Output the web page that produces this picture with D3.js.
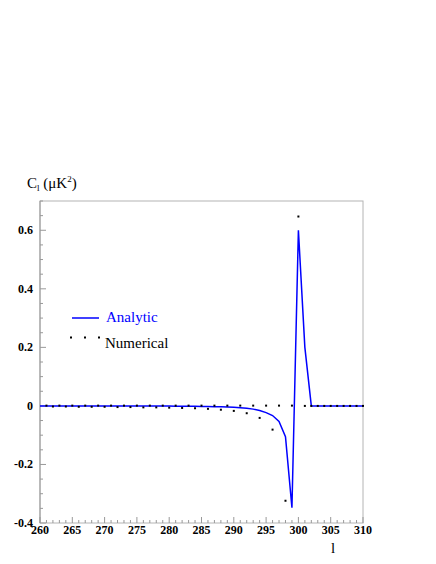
<!DOCTYPE html>
<html>
<head>
<meta charset="utf-8">
<title>C_l analytic vs numerical</title>
<script src="https://d3js.org/d3.v7.min.js"></script>
<style>
  body { margin: 0; background: #fff; }
  text { font-family: "Liberation Serif", "Times New Roman", serif; }
  .tick-label { font-weight: bold; font-size: 12px; }
</style>
</head>
<body>
<div id="chart"></div>
<script>
// multipoles l
var analyticL = [260,261,262,263,264,265,266,267,268,269,270,271,272,273,274,275,276,277,278,279,
                 280,281,282,283,284,285,286,287,288,289,290,291,292,293,294,295,296,297,298,299,
                 300,301,302,303,304,305,306,307,308,309,310];
var analyticC = [0,0,0,0,0,0,0,0,0,0,0,0,0,0,0,0,0,0,0,0,
                 0,-0.001,-0.001,-0.001,-0.001,-0.002,-0.002,-0.003,-0.003,-0.004,-0.005,-0.006,-0.008,-0.011,-0.016,-0.023,-0.033,-0.053,-0.105,-0.348,
                 0.600,0.200,0,0,0,0,0,0,0,0,0];

var numericalL = [261,262,263,264,265,266,267,268,269,270,271,272,273,274,275,276,277,278,279,280,
                  281,282,283,284,285,286,287,288,289,290,291,292,293,294,295,296,297,298,299,300,
                  301,302,303,304,305,306,307,308,309,310];
var numericalC = [0.001,-0.002,0.001,-0.002,0.001,-0.003,0.001,-0.003,0.001,-0.003,0.001,-0.004,0.001,-0.004,0.001,-0.005,0.001,-0.005,0.001,-0.006,
                  0.001,-0.007,0.001,-0.008,0.001,-0.010,0.001,-0.013,0.001,-0.017,0.001,-0.025,0.001,-0.041,0.001,-0.081,0.001,-0.324,0.001,0.647,
                  0,0,0,0,0,0,0,0,0,0];

var xTicks = [260,265,270,275,280,285,290,295,300,305,310];
var yTicks = [-0.4,-0.2,0,0.2,0.4,0.6];
var yTickLabels = ["-0.4","-0.2","0","0.2","0.4","0.6"];

var width = 436, height = 564;
var margin = {top: 201, right: 73, bottom: 41, left: 40};
var w = width - margin.left - margin.right,
    h = height - margin.top - margin.bottom;

var svg = d3.select("#chart").append("svg")
  .attr("width", width)
  .attr("height", height);

var g = svg.append("g")
  .attr("transform", "translate(" + margin.left + "," + margin.top + ")");

var x = d3.scaleLinear().domain([260, 310]).range([0, w]);
var y = d3.scaleLinear().domain([-0.4, 0.7]).range([h, 0]);

// frame
g.append("rect")
  .attr("x", 0).attr("y", 0)
  .attr("width", w).attr("height", h)
  .attr("fill", "none")
  .attr("stroke", "#b4b4b4")
  .attr("stroke-width", 1);

// x axis: minor ticks every 1, major every 5
var xAxis = g.append("g").attr("transform", "translate(0," + h + ")");
xAxis.selectAll("line.minor")
  .data(d3.range(260, 311))
  .enter().append("line")
  .attr("x1", function(d) { return x(d); })
  .attr("x2", function(d) { return x(d); })
  .attr("y1", 0)
  .attr("y2", function(d) { return d % 5 === 0 ? -6 : -3; })
  .attr("stroke", "#999");
xAxis.selectAll("text")
  .data(xTicks)
  .enter().append("text")
  .attr("class", "tick-label")
  .attr("x", function(d) { return x(d); })
  .attr("y", 11)
  .attr("text-anchor", "middle")
  .text(function(d) { return d; });

// y axis: minor ticks every 0.05, major every 0.2
var yAxis = g.append("g");
yAxis.append("line")
  .attr("x1", 0).attr("x2", 0)
  .attr("y1", 0).attr("y2", h)
  .attr("stroke", "#999");
yAxis.selectAll("line.minor")
  .data(d3.range(-8, 15))
  .enter().append("line")
  .attr("x1", 0)
  .attr("x2", function(d) { return d % 4 === 0 ? 6 : 3; })
  .attr("y1", function(d) { return y(d * 0.05); })
  .attr("y2", function(d) { return y(d * 0.05); })
  .attr("stroke", "#999");
yAxis.selectAll("text")
  .data(yTicks)
  .enter().append("text")
  .attr("class", "tick-label")
  .attr("x", -7)
  .attr("y", function(d) { return y(d) + 4; })
  .attr("text-anchor", "end")
  .text(function(d, i) { return yTickLabels[i]; });

// axis titles
var yt = svg.append("text")
  .attr("x", 27).attr("y", 188)
  .style("font-size", "15px");
yt.append("tspan").text("C");
yt.append("tspan").attr("dy", 3).style("font-size", "9px").text("l");
yt.append("tspan").attr("dy", -3).text(" (\u03bcK");
yt.append("tspan").attr("dy", -6).style("font-size", "9px").text("2");
yt.append("tspan").attr("dy", 6).text(")");

svg.append("text")
  .attr("x", 333).attr("y", 553)
  .attr("text-anchor", "middle")
  .style("font-size", "15px")
  .text("l");

// analytic curve
var line = d3.line()
  .x(function(d) { return x(d[0]); })
  .y(function(d) { return y(d[1]); });

g.append("path")
  .datum(d3.zip(analyticL, analyticC))
  .attr("d", line)
  .attr("fill", "none")
  .attr("stroke", "#0000ff")
  .attr("stroke-width", 1.5);

// numerical points
g.selectAll("rect.pt")
  .data(d3.zip(numericalL, numericalC))
  .enter().append("rect")
  .attr("class", "pt")
  .attr("x", function(d) { return x(d[0]) - 1; })
  .attr("y", function(d) { return y(d[1]) - 1; })
  .attr("width", 2)
  .attr("height", 2)
  .attr("fill", "#000");

// legend
svg.append("line")
  .attr("x1", 72).attr("x2", 99)
  .attr("y1", 318).attr("y2", 318)
  .attr("stroke", "#0000ff")
  .attr("stroke-width", 1.5);
svg.append("text")
  .attr("x", 106).attr("y", 322)
  .attr("fill", "#0000ff")
  .style("font-size", "15px")
  .text("Analytic");

svg.selectAll("rect.leg")
  .data([71, 85, 99])
  .enter().append("rect")
  .attr("class", "leg")
  .attr("x", function(d) { return d - 1; })
  .attr("y", 336.5)
  .attr("width", 2).attr("height", 2)
  .attr("fill", "#000");
svg.append("text")
  .attr("x", 105).attr("y", 348)
  .style("font-size", "15px")
  .text("Numerical");
</script>
</body>
</html>
